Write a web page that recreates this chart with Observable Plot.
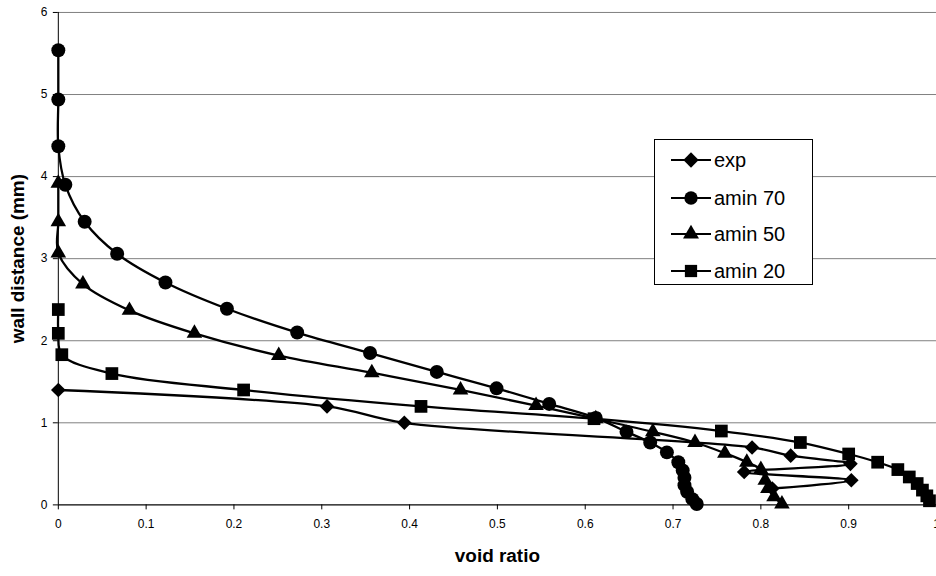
<!DOCTYPE html>
<html><head><meta charset="utf-8">
<script src="https://cdn.jsdelivr.net/npm/d3@7"></script>
<script src="https://cdn.jsdelivr.net/npm/@observablehq/plot@0.6"></script>
<style>
html,body{margin:0;padding:0;background:#fff;overflow:hidden}
#wrap{position:relative;width:936px;height:576px;overflow:hidden;font-family:"Liberation Sans",Arial,sans-serif}
#chart svg{display:block}
[aria-label="x-axis label"] text,[aria-label="y-axis label"] text{font-weight:bold;font-size:19px}
#legend{position:absolute;left:654px;top:139px;width:159px;height:146px;border:1px solid #000;background:#fff;box-sizing:border-box}
.lrow{position:absolute;left:0;height:30px;display:flex;align-items:center}
.lrow span{font-size:20px;color:#000;margin-left:3px}
</style>
</head><body>
<div id="wrap"><div id="chart"></div><div id="legend"></div></div>
<script>
// ---- data ----
const seriesNames = ["exp", "amin 70", "amin 50", "amin 20"];
const expX = [0, 0.306, 0.394, 0.790, 0.834, 0.902, 0.781, 0.903, 0.813];
const expY = [1.40, 1.20, 1.00, 0.70, 0.60, 0.50, 0.40, 0.30, 0.20];
const a70X = [0, 0, 0, 0.008, 0.030, 0.067, 0.122, 0.192, 0.272, 0.355, 0.431, 0.499, 0.559, 0.612, 0.647, 0.674, 0.693, 0.706, 0.711, 0.713, 0.713, 0.716, 0.722, 0.727];
const a70Y = [5.54, 4.94, 4.37, 3.90, 3.45, 3.06, 2.71, 2.39, 2.10, 1.85, 1.62, 1.42, 1.23, 1.06, 0.89, 0.76, 0.64, 0.52, 0.42, 0.33, 0.24, 0.16, 0.07, 0.01];
const a50X = [0, 0, 0, 0.028, 0.081, 0.155, 0.251, 0.357, 0.458, 0.544, 0.612, 0.677, 0.725, 0.759, 0.784, 0.800, 0.805, 0.808, 0.815, 0.824];
const a50Y = [3.92, 3.45, 3.07, 2.69, 2.37, 2.09, 1.82, 1.61, 1.40, 1.21, 1.05, 0.89, 0.76, 0.63, 0.52, 0.43, 0.30, 0.20, 0.10, 0.01];
const a20X = [0, 0, 0.004, 0.061, 0.211, 0.413, 0.610, 0.755, 0.845, 0.900, 0.933, 0.956, 0.969, 0.978, 0.984, 0.989, 0.992];
const a20Y = [2.38, 2.09, 1.83, 1.60, 1.40, 1.20, 1.05, 0.90, 0.76, 0.62, 0.52, 0.43, 0.34, 0.26, 0.18, 0.11, 0.05];
const xTicks = [0, 0.1, 0.2, 0.3, 0.4, 0.5, 0.6, 0.7, 0.8, 0.9, 1];
const yTicks = [0, 1, 2, 3, 4, 5, 6];

// ---- build tables ----
const toRows = (xs, ys) => xs.map((x, i) => ({x, y: ys[i]}));
const series = [
  {name: seriesNames[0], rows: toRows(expX, expY), symbol: "diamond2", r: 6.6},
  {name: seriesNames[1], rows: toRows(a70X, a70Y), symbol: "circle", r: 7},
  {name: seriesNames[2], rows: toRows(a50X, a50Y), symbol: "triangle", r: 5.8},
  {name: seriesNames[3], rows: toRows(a20X, a20Y), symbol: "square", r: 7.2}
];

const marks = [
  Plot.gridY(yTicks, {stroke: "#808080", strokeOpacity: 1, strokeWidth: 1}),
  Plot.ruleX([0], {stroke: "#000", strokeWidth: 1}),
  Plot.ruleY([0], {stroke: "#000", strokeWidth: 1}),
  Plot.axisX(xTicks, {tickSize: 5, tickPadding: 10, fontSize: 12, tickFormat: d => String(+d.toFixed(1)),
    label: "void ratio", labelAnchor: "center", labelArrow: "none", labelOffset: 57}),
  Plot.axisY(yTicks, {tickSize: 5, tickPadding: 6, fontSize: 12, tickFormat: d => String(d),
    label: "wall distance (mm)", labelAnchor: "center", labelArrow: "none", labelOffset: 48})
];
for (const s of series) {
  marks.push(Plot.line(s.rows, {x: "x", y: "y", stroke: "#000", strokeWidth: 2.3, curve: "catmull-rom"}));
  marks.push(Plot.dot(s.rows, {x: "x", y: "y", symbol: s.symbol, r: s.r, fill: "#000", stroke: "none"}));
}

const chart = Plot.plot({
  width: 939, height: 576,
  marginLeft: 58, marginRight: 0, marginTop: 12, marginBottom: 70,
  style: {fontFamily: "'Liberation Sans', Arial, sans-serif", color: "#000", background: "#fff", overflow: "visible"},
  x: {domain: [0, 1]},
  y: {domain: [0, 6]},
  marks
});
document.getElementById("chart").appendChild(chart);

// ---- legend ----
const legend = d3.select("#legend");
const legendSymbols = [d3.symbolDiamond2, d3.symbolCircle, d3.symbolTriangle, d3.symbolSquare];
const legendSizes = [150, 140, 110, 150];
const rowTops = [5, 43, 79, 116];
series.forEach((s, i) => {
  const row = legend.append("div").attr("class", "lrow").style("top", rowTops[i] + "px").style("left", "16px");
  const svg = row.append("svg").attr("width", 40).attr("height", 20);
  svg.append("line").attr("x1", 0).attr("x2", 40).attr("y1", 10).attr("y2", 10).attr("stroke", "#000").attr("stroke-width", 2);
  svg.append("path").attr("transform", "translate(20,10)").attr("d", d3.symbol(legendSymbols[i], legendSizes[i])()).attr("fill", "#000");
  row.append("span").text(s.name);
});
</script>
</body></html>
